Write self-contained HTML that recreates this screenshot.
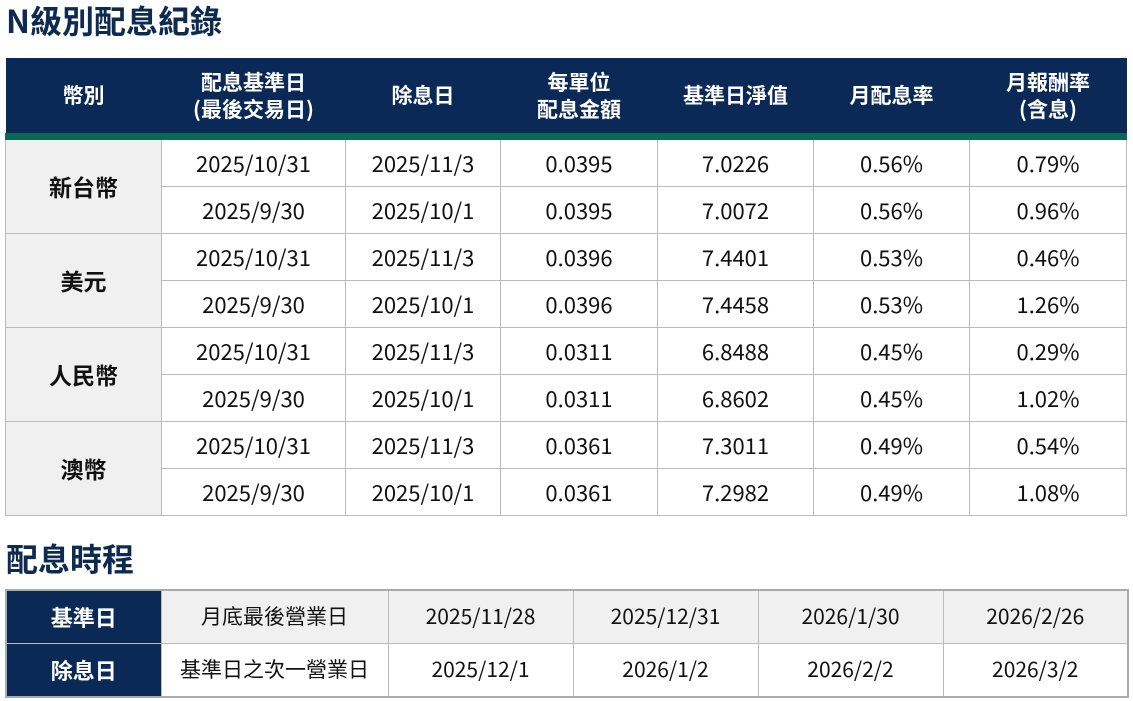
<!DOCTYPE html>
<html><head><meta charset="utf-8"><style>
body{margin:0;width:1133px;height:701px;background:#fff;font-family:"Noto Sans CJK TC","Liberation Sans",sans-serif;position:relative;overflow:hidden}
h1{position:absolute;margin:0;left:6px;font-size:32px;font-weight:bold;color:#0d2a50;line-height:1}
table{position:absolute;border-collapse:collapse;table-layout:fixed}
td{text-align:center;color:#111;font-size:22px;padding:0;border:1px solid #bbb;line-height:1.1}
#t1{left:5px;top:58px;width:1121px}
#t1 th{background:#0b2956;color:#fff;font-size:21px;font-weight:bold;height:75px;line-height:27px;padding:0;border-bottom:7px solid #086a50}
#t1 td{height:46px}
#t1 td.c{background:#f0f0f0;font-weight:bold;font-size:23px}
#t2{left:5px;top:589px;width:1122px;border:2px solid #aaa}
#t2 td{height:52px;font-size:21px}
#t2 td.h{background:#0b2956;color:#fff;font-weight:bold;font-size:22px}
#t2 tr.g td{background:#f0f0f0}
#t2 tr.g td.h{background:#0b2956}
</style></head><body>
<h1 style="top:4px">N級別配息紀錄</h1>
<table id="t1">
<colgroup><col style="width:156px"><col style="width:184px"><col style="width:155px"><col style="width:157px"><col style="width:156px"><col style="width:156px"><col style="width:157px"></colgroup>
<tr><th>幣別</th><th>配息基準日<br>(最後交易日)</th><th>除息日</th><th>每單位<br>配息金額</th><th>基準日淨值</th><th>月配息率</th><th>月報酬率<br>(含息)</th></tr>
<tr><td class="c" rowspan="2">新台幣</td><td>2025/10/31</td><td>2025/11/3</td><td>0.0395</td><td>7.0226</td><td>0.56%</td><td>0.79%</td></tr>
<tr><td>2025/9/30</td><td>2025/10/1</td><td>0.0395</td><td>7.0072</td><td>0.56%</td><td>0.96%</td></tr>
<tr><td class="c" rowspan="2">美元</td><td>2025/10/31</td><td>2025/11/3</td><td>0.0396</td><td>7.4401</td><td>0.53%</td><td>0.46%</td></tr>
<tr><td>2025/9/30</td><td>2025/10/1</td><td>0.0396</td><td>7.4458</td><td>0.53%</td><td>1.26%</td></tr>
<tr><td class="c" rowspan="2">人民幣</td><td>2025/10/31</td><td>2025/11/3</td><td>0.0311</td><td>6.8488</td><td>0.45%</td><td>0.29%</td></tr>
<tr><td>2025/9/30</td><td>2025/10/1</td><td>0.0311</td><td>6.8602</td><td>0.45%</td><td>1.02%</td></tr>
<tr><td class="c" rowspan="2">澳幣</td><td>2025/10/31</td><td>2025/11/3</td><td>0.0361</td><td>7.3011</td><td>0.49%</td><td>0.54%</td></tr>
<tr><td>2025/9/30</td><td>2025/10/1</td><td>0.0361</td><td>7.2982</td><td>0.49%</td><td>1.08%</td></tr>
</table>
<h1 style="top:542px">配息時程</h1>
<table id="t2">
<colgroup><col style="width:155px"><col style="width:227px"><col style="width:185px"><col style="width:185px"><col style="width:185px"><col style="width:185px"></colgroup>
<tr class="g"><td class="h">基準日</td><td>月底最後營業日</td><td>2025/11/28</td><td>2025/12/31</td><td>2026/1/30</td><td>2026/2/26</td></tr>
<tr><td class="h">除息日</td><td>基準日之次一營業日</td><td>2025/12/1</td><td>2026/1/2</td><td>2026/2/2</td><td>2026/3/2</td></tr>
</table>
</body></html>
